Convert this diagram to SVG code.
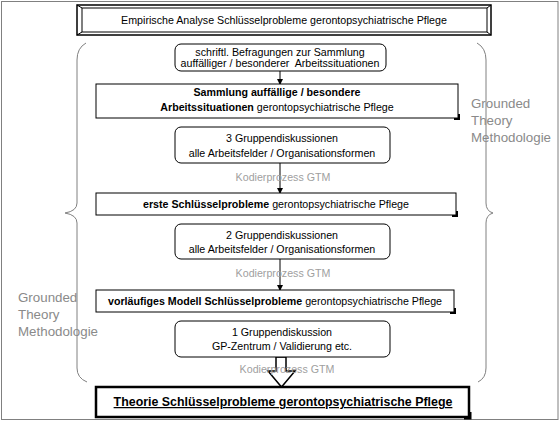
<svg xmlns="http://www.w3.org/2000/svg" width="560" height="422" viewBox="0 0 560 422">
<style>
text{font-family:"Liberation Sans",Arial,sans-serif;font-size:10.67px;fill:#000}
.c{text-anchor:middle}
.b{font-weight:bold}
.t{font-weight:bold;font-size:12.4px;text-decoration:underline}
.g{fill:#8a8a8a;font-size:13.33px}
.k{fill:#a0a0a0;font-size:10.67px}
.box{fill:#fff;stroke:#000;stroke-width:1}
.sh{fill:none;stroke:#000;stroke-width:2}
.br{fill:none;stroke:#808080;stroke-width:1}
.ln{stroke:#000;stroke-width:1;fill:none}
</style>
<defs>
<marker id="ah" markerWidth="6" markerHeight="6" refX="5" refY="3" orient="auto" markerUnits="userSpaceOnUse">
<path d="M0,0 L6,3 L0,6 z" fill="#000"/>
</marker>
</defs>
<rect x="1.5" y="1.5" width="556.5" height="418" fill="#fff" stroke="#808080" stroke-width="1"/>

<g id="braces">
<path class="br" d="M86,43 Q77,48 77,60 L77,203 Q77,211 65,213 Q77,215 77,223 L77,368 Q77,378 87,382"/>
<path class="br" d="M477,43 Q486,48 486,60 L486,203 Q486,211 493,213 Q486,215 486,223 L486,368 Q486,378 478,382"/>
</g>
<g id="label-right">
<text class="g" x="471" y="108">Grounded</text>
<text class="g" x="471" y="125">Theory</text>
<text class="g" x="471" y="142">Methodologie</text>
</g>
<g id="label-left">
<text class="g" x="18" y="302">Grounded</text>
<text class="g" x="18" y="319">Theory</text>
<text class="g" x="18" y="336">Methodologie</text>
</g>

<g id="connectors">
<line class="ln" x1="280" y1="71" x2="280" y2="84" marker-end="url(#ah)"/>
<line class="ln" x1="280" y1="163" x2="280" y2="193" marker-end="url(#ah)"/>
<line class="ln" x1="280" y1="259" x2="280" y2="290" marker-end="url(#ah)"/>
<polygon points="276,357 286,357 286,371 295,371 281.5,387 268,371 276,371" fill="#fff" stroke="#000" stroke-width="1.5"/>
<text class="k c" x="283" y="181">Kodierprozess GTM</text>
<text class="k c" x="283" y="277">Kodierprozess GTM</text>
<text class="k c" x="287" y="373">Kodierprozess GTM</text>
</g>

<g id="n-top">
<rect x="77" y="5" width="414" height="30" fill="#fff" stroke="#000" stroke-width="1.5"/>
<rect x="82" y="8" width="405" height="24" fill="#fff" stroke="#000" stroke-width="1"/>
<path class="ln" d="M77,5 L82,8 M491,5 L487,8 M77,35 L82,32 M491,35 L487,32"/>
<text class="c" x="284" y="24">Empirische Analyse Schlüsselprobleme gerontopsychiatrische Pflege</text>
</g>

<g id="n-befragung">
<rect class="box" x="175" y="44" width="211" height="27" rx="6"/>
<text class="c" x="280" y="56">schriftl. Befragungen zur Sammlung</text>
<text class="c" x="280" y="67" xml:space="preserve">auffälliger / besonderer  Arbeitssituationen</text>
</g>

<g id="n-sammlung">
<rect class="box" x="96" y="84" width="362" height="34"/>
<path class="sh" d="M459,114 L459,119 L454,119"/>
<text class="c b" x="277" y="96">Sammlung auffällige / besondere</text>
<text class="c" x="277" y="111"><tspan class="b">Arbeitssituationen</tspan> gerontopsychiatrische Pflege</text>
</g>

<g id="n-gd3">
<rect class="box" x="175" y="127" width="215" height="36" rx="6"/>
<text class="c" x="282" y="142">3 Gruppendiskussionen</text>
<text class="c" x="282" y="157">alle Arbeitsfelder / Organisationsformen</text>
</g>

<g id="n-erste">
<rect class="box" x="96" y="193" width="360" height="22"/>
<path class="sh" d="M457,211 L457,216 L452,216"/>
<text class="c" x="276" y="208"><tspan class="b">erste Schlüsselprobleme</tspan> gerontopsychiatrische Pflege</text>
</g>

<g id="n-gd2">
<rect class="box" x="175" y="224" width="215" height="35" rx="6"/>
<text class="c" x="282" y="239">2 Gruppendiskussionen</text>
<text class="c" x="282" y="253">alle Arbeitsfelder / Organisationsformen</text>
</g>

<g id="n-modell">
<rect class="box" x="96" y="290" width="358" height="22"/>
<path class="sh" d="M455,308 L455,313 L450,313"/>
<text class="c" x="275" y="305"><tspan class="b">vorläufiges Modell Schlüsselprobleme</tspan> gerontopsychiatrische Pflege</text>
</g>

<g id="n-gd1">
<rect class="box" x="175" y="321" width="215" height="36" rx="6"/>
<text class="c" x="282" y="336">1 Gruppendiskussion</text>
<text class="c" x="282" y="350">GP-Zentrum / Validierung etc.</text>
</g>

<g id="n-theorie">
<rect x="96" y="387" width="373" height="30" fill="#fff" stroke="#000" stroke-width="2.5"/>
<path d="M470,412 L470,418 L464,418" fill="none" stroke="#000" stroke-width="3"/>
<text class="c t" x="283" y="406">Theorie Schlüsselprobleme gerontopsychiatrische Pflege</text>
</g>
</svg>
